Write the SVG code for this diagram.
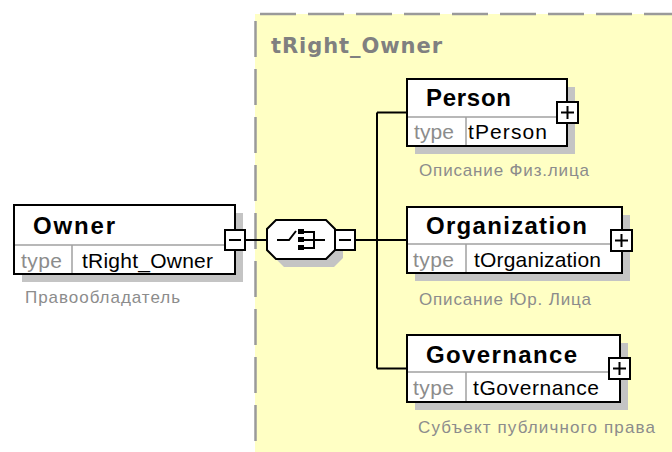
<svg xmlns="http://www.w3.org/2000/svg" width="672" height="452" viewBox="0 0 672 452">
<style>
.box{fill:#fff;stroke:#000;stroke-width:2}
.sh{fill:#c4c4c4}
.div{stroke:#a0a0a0;stroke-width:1.5;fill:none}
.name{font-family:"Liberation Sans",Arial,sans-serif;font-weight:bold;font-size:24px;fill:#000}
.tk{font-family:"Liberation Sans",Arial,sans-serif;font-size:21px;fill:#8c8c8c}
.tv{font-family:"Liberation Sans",Arial,sans-serif;font-size:21px;fill:#000}
.ds{font-family:"Liberation Sans",Arial,sans-serif;font-size:17px;fill:#8c8c8c}
.btn{fill:#fff;stroke:#000;stroke-width:2}
.sym{stroke:#000;stroke-width:2;fill:none}
.con{stroke:#000;stroke-width:2;fill:none}
.dash{stroke:#9a9a9a;stroke-width:2.5;stroke-dasharray:36 12;fill:none}
</style>
<g id="group-tRight_Owner">
<rect x="255" y="14" width="417" height="438" fill="#ffffc4"/>
<line class="dash" x1="260" y1="14" x2="672" y2="14"/>
<line class="dash" x1="255.5" y1="21" x2="255.5" y2="452"/>
<text x="271" y="53" font-family="DejaVu Sans,Verdana,sans-serif" font-weight="bold" font-size="21" fill="#808080" textLength="171" lengthAdjust="spacing">tRight_Owner</text>
</g>
<g id="connectors">
<line class="con" x1="245" y1="240" x2="267" y2="240"/>
<line class="con" x1="355" y1="240" x2="407" y2="240"/>
<line class="con" x1="377" y1="112.5" x2="377" y2="368.5"/>
<line class="con" x1="377" y1="112.5" x2="407" y2="112.5"/>
<line class="con" x1="377" y1="368.5" x2="407" y2="368.5"/>
</g>
<g id="Owner">
<rect class="sh" x="22" y="213" width="221" height="69"/>
<rect class="box" x="14" y="205" width="221" height="69"/>
<line class="div" x1="15" y1="245" x2="234" y2="245"/>
<line class="div" x1="72" y1="245" x2="72" y2="273"/>
<text class="name" x="33" y="234" textLength="82" lengthAdjust="spacing">Owner</text>
<text class="tk" x="21" y="268" textLength="41" lengthAdjust="spacing">type</text>
<text class="tv" x="82" y="268" textLength="131" lengthAdjust="spacing">tRight_Owner</text>
<text class="ds" x="25" y="303" textLength="155" lengthAdjust="spacing">Правообладатель</text>
<rect class="btn" x="225" y="230" width="20" height="20"/>
<line class="sym" x1="229" y1="240" x2="241" y2="240"/>
</g>
<g id="sequence">
<polygon class="sh" points="284,228 334,228 343,237 343,258 334,267 284,267 275,258 275,237"/>
<polygon class="box" points="276,220 326,220 335,229 335,250 326,259 276,259 267,250 267,229"/>
<polyline class="sym" points="277,240 289,240 296,231"/>
<rect x="298" y="229" width="6" height="5" fill="#000"/>
<rect x="298" y="237" width="6" height="5" fill="#000"/>
<rect x="298" y="245" width="6" height="5" fill="#000"/>
<polyline class="sym" points="304,232 314,232 314,248 304,248"/>
<line class="sym" x1="304" y1="240" x2="325" y2="240"/>
<rect class="btn" x="335" y="230" width="20" height="20"/>
<line class="sym" x1="339" y1="240" x2="351" y2="240"/>
</g>
<g id="Person">
<rect class="sh" x="415" y="87" width="160" height="67"/>
<rect class="box" x="407" y="79" width="160" height="67"/>
<line class="div" x1="408" y1="117" x2="566" y2="117"/>
<line class="div" x1="466" y1="117" x2="466" y2="145"/>
<text class="name" x="426" y="106" textLength="85" lengthAdjust="spacing">Person</text>
<text class="tk" x="414" y="139" textLength="40" lengthAdjust="spacing">type</text>
<text class="tv" x="468" y="139" textLength="79" lengthAdjust="spacing">tPerson</text>
<text class="ds" x="419" y="176" textLength="170" lengthAdjust="spacing">Описание Физ.лица</text>
<rect class="btn" x="557" y="102" width="21" height="21"/>
<line class="sym" x1="561" y1="112.5" x2="574" y2="112.5"/>
<line class="sym" x1="567.5" y1="106" x2="567.5" y2="119"/>
</g>
<g id="Organization">
<rect class="sh" x="415" y="215" width="215" height="66"/>
<rect class="box" x="407" y="207" width="215" height="66"/>
<line class="div" x1="408" y1="244" x2="621" y2="244"/>
<line class="div" x1="466" y1="244" x2="466" y2="272"/>
<text class="name" x="426" y="234" textLength="161" lengthAdjust="spacing">Organization</text>
<text class="tk" x="413" y="267" textLength="41" lengthAdjust="spacing">type</text>
<text class="tv" x="474" y="267" textLength="127" lengthAdjust="spacing">tOrganization</text>
<text class="ds" x="419" y="305" textLength="172" lengthAdjust="spacing">Описание Юр. Лица</text>
<rect class="btn" x="611" y="230" width="21" height="21"/>
<line class="sym" x1="615" y1="240.5" x2="628" y2="240.5"/>
<line class="sym" x1="621.5" y1="234" x2="621.5" y2="247"/>
</g>
<g id="Governance">
<rect class="sh" x="415" y="343" width="213" height="67"/>
<rect class="box" x="407" y="335" width="213" height="67"/>
<line class="div" x1="408" y1="372" x2="619" y2="372"/>
<line class="div" x1="466" y1="372" x2="466" y2="401"/>
<text class="name" x="426" y="363" textLength="151" lengthAdjust="spacing">Governance</text>
<text class="tk" x="413" y="395" textLength="41" lengthAdjust="spacing">type</text>
<text class="tv" x="473" y="395" textLength="126" lengthAdjust="spacing">tGovernance</text>
<text class="ds" x="418" y="433" textLength="237" lengthAdjust="spacing">Субъект публичного права</text>
<rect class="btn" x="609" y="358" width="21" height="21"/>
<line class="sym" x1="613" y1="368.5" x2="626" y2="368.5"/>
<line class="sym" x1="619.5" y1="362" x2="619.5" y2="375"/>
</g>
</svg>
